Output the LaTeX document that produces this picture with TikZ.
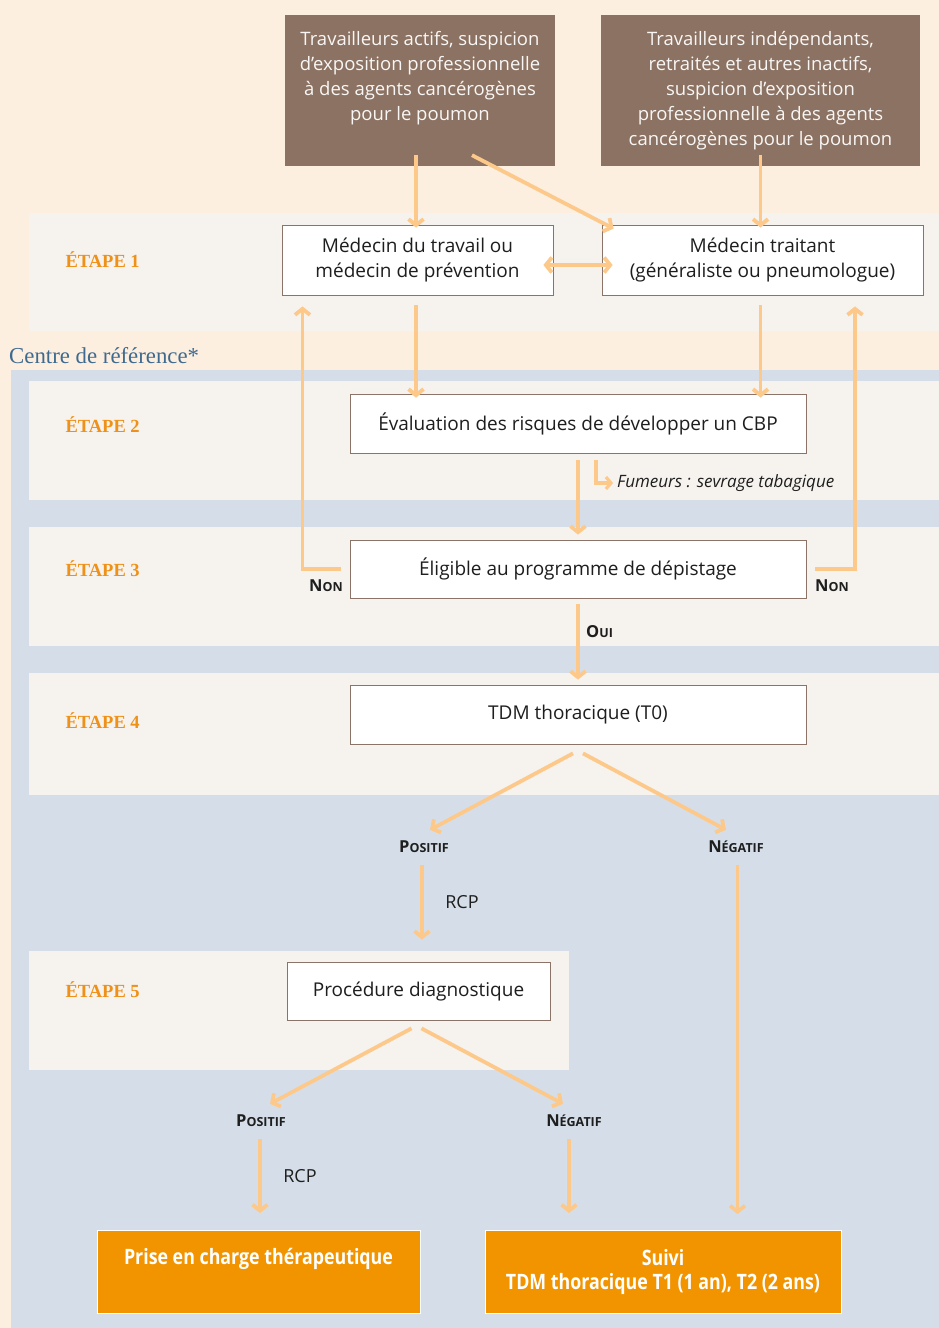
\documentclass[tikz,border=0pt]{standalone}
\usepackage{fontspec}
\setmainfont{Open Sans}
\newfontfamily\serifb{Liberation Serif}
\newfontfamily\condf{Open Sans}[FakeStretch=0.84]
\usetikzlibrary{arrows.meta,calc}
\definecolor{cream}{HTML}{FCEFDF}
\definecolor{bluebg}{HTML}{D5DEE8}
\definecolor{band}{HTML}{F6F2EE}
\definecolor{brownbox}{HTML}{8C7262}
\definecolor{arrc}{HTML}{FDC98A}
\definecolor{stepc}{HTML}{EF9118}
\definecolor{orbox}{HTML}{F29400}
\definecolor{centrec}{HTML}{3F6A90}
\definecolor{boxline}{HTML}{8B7367}
\definecolor{txt}{HTML}{1E1E1E}
\newcommand{\fsc}[2]{{\fontsize{16.5}{16.5}\selectfont\bfseries #1{\fontsize{12.5}{12.5}\selectfont #2}}}
\tikzset{
  wbox/.style={draw=boxline, line width=0.8pt, fill=white, inner sep=0pt, align=center,
    font=\fontsize{19}{25}\selectfont, text=txt},
  bbox/.style={fill=brownbox, inner sep=0pt, text=white!94!brownbox,
    font=\fontsize{18.5}{25}\selectfont},
  obox/.style={fill=orbox, draw=white, line width=0.8pt, inner sep=0pt, align=center, text=white,
    font=\condf\bfseries\fontsize{21.2}{24.5}\selectfont},
  steplab/.style={text=stepc, font=\serifb\bfseries\fontsize{18.5}{18.5}\selectfont, anchor=west},
  arr/.style={draw=arrc, line width=3.8pt, -{Straight Barb[length=6pt,width=15pt]}},
  darr/.style={draw=arrc, line width=3.8pt, {Straight Barb[length=6pt,width=15pt]}-{Straight Barb[length=6pt,width=15pt]}},
  plainlab/.style={text=txt, inner sep=0pt},
}
\begin{document}
\begin{tikzpicture}[x=1pt,y=-1pt]
% backgrounds
\fill[cream] (0,0) rectangle (939,1328);
\useasboundingbox (0,0) rectangle (939,1328);
\fill[bluebg] (11,370) rectangle (939,1328);
\fill[band] (29,213) rectangle (939,331);
\fill[band] (29,381) rectangle (939,500);
\fill[band] (29,527) rectangle (939,646);
\fill[band] (29,673) rectangle (939,795);
\fill[band] (29,951) rectangle (569,1070);

% step labels
\node[steplab] (s1) at (62,260) {ÉTAPE 1};
\node[steplab] (s2) at (62,425) {ÉTAPE 2};
\node[steplab] (s3) at (62,569) {ÉTAPE 3};
\node[steplab] (s4) at (62,721) {ÉTAPE 4};
\node[steplab] (s5) at (62,990) {ÉTAPE 5};
\node[text=centrec, font=\serifb\fontsize{22.8}{22.8}\selectfont, anchor=west, inner sep=0pt] (centre) at (9,356) {Centre de référence*};

% brown boxes
\node[bbox, minimum width=270pt, minimum height=151pt] (b1) at (420,90.5)
  {\parbox[c][151pt][t]{265pt}{\centering\vspace*{16pt}Travailleurs actifs, suspicion\\ d’exposition professionnelle\\ à des agents cancérogènes\\ pour le poumon}};
\node[bbox, minimum width=319pt, minimum height=151pt] (b2) at (760.5,90.5)
  {\parbox[c][151pt][t]{310pt}{\centering\vspace*{16pt}Travailleurs indépendants,\\ retraités et autres inactifs,\\ suspicion d’exposition\\ professionnelle à des agents\\ cancérogènes pour le poumon}};

% white boxes
\node[wbox, minimum width=271pt, minimum height=70pt] (A) at (417.5,260) {Médecin du travail ou\\ médecin de prévention};
\node[wbox, minimum width=321pt, minimum height=70pt] (B) at (762.5,260) {Médecin traitant\\ (généraliste ou pneumologue)};
\node[wbox, minimum width=456pt, minimum height=59pt] (E2) at (578,423.5) {Évaluation des risques de développer un CBP};
\node[wbox, minimum width=456pt, minimum height=58pt] (E3) at (578,569) {Éligible au programme de dépistage};
\node[wbox, minimum width=456pt, minimum height=59pt] (E4) at (578,714.5) {TDM thoracique (T0)};
\node[wbox, minimum width=263pt, minimum height=58pt] (E5) at (418.5,991) {Procédure diagnostique};

% orange boxes
\node[obox, minimum width=323pt, minimum height=83pt] (O1) at (258.5,1272) {Prise en charge thérapeutique\\ \strut};
\node[obox, minimum width=356pt, minimum height=83pt] (O2) at (663,1272) {Suivi\\ TDM thoracique T1 (1 an), T2 (2 ans)};

% labels
\node[plainlab] (non1) at (326,586) {\fsc{N}{ON}};
\node[plainlab] (non2) at (832,586) {\fsc{N}{ON}};
\node[plainlab, anchor=west] (oui) at (586,632) {\fsc{O}{UI}};
\node[plainlab] (pos1) at (424,847) {\fsc{P}{OSITIF}};
\node[plainlab] (neg1) at (736,847) {\fsc{N}{ÉGATIF}};
\node[plainlab] (pos2) at (261,1121) {\fsc{P}{OSITIF}};
\node[plainlab] (neg2) at (574,1121) {\fsc{N}{ÉGATIF}};
\node[plainlab, font=\fontsize{18}{18}\selectfont] (rcp1) at (462,902) {RCP};
\node[plainlab, font=\fontsize{18}{18}\selectfont] (rcp2) at (300,1176) {RCP};
\node[plainlab, anchor=west, font=\itshape\fontsize{17}{17}\selectfont] (fum) at (617,483) {Fumeurs : sevrage tabagique};

% arrows
\draw[arr] ($(b1.south)+(-4,-11)$) -- ($(A.north)+(-1.5,3)$);
\draw[arr] ($(b1.south)+(52,-11)$) -- ($(B.north west)+(12,4)$);
\draw[arr] ($(b2.south)+(0,-11)$) -- ($(B.north)+(-2,3)$);
\draw[darr] ($(A.east)+(-10,5)$) -- ($(B.west)+(11,5)$);
\draw[arr] ($(A.south)+(-1.5,10)$) -- ($(A.south |- E2.north)+(-1.5,4)$);
\draw[arr] ($(B.south)+(-2,10)$) -- ($(B.south |- E2.north)+(-2,4)$);
\draw[arr] ($(E2.south)+(0,7)$) -- ($(E3.north)+(0,-5)$);
\draw[draw=arrc, line width=3.2pt, -{Straight Barb[length=5pt,width=12pt]}] ($(E2.south)+(18,7)$) |- ($(fum.west)+(-4,0)$);
\draw[arr] ($(E3.west)+(-9,0)$) -| ($(A.south)+(-115,11)$);
\draw[arr] ($(E3.east)+(9,0)$) -| ($(B.south)+(92.5,11)$);
\draw[arr] ($(E3.south)+(0,6)$) -- ($(E4.north)+(0,-5)$);
\draw[arr] ($(E4.south)+(-5,9)$) -- ($(pos1.north)+(6,-11)$);
\draw[arr] ($(E4.south)+(5,9)$) -- ($(neg1.north)+(-10,-11)$);
\draw[arr] ($(pos1.south)+(-2,12)$) -- ($(E5.north)+(3.5,-22)$);
\draw[arr] ($(neg1.south)+(1.5,12)$) -- ($(O2.north)+(74.5,-16)$);
\draw[arr] ($(E5.south)+(-7,8)$) -- ($(pos2.north)+(9,-11)$);
\draw[arr] ($(E5.south)+(3,8)$) -- ($(neg2.north)+(-11,-11)$);
\draw[arr] ($(pos2.south)+(-1,12)$) -- ($(O1.north)+(1.5,-17)$);
\draw[arr] ($(neg2.south)+(-5,12)$) -- ($(O2.north)+(-94,-17)$);
\end{tikzpicture}
\end{document}
